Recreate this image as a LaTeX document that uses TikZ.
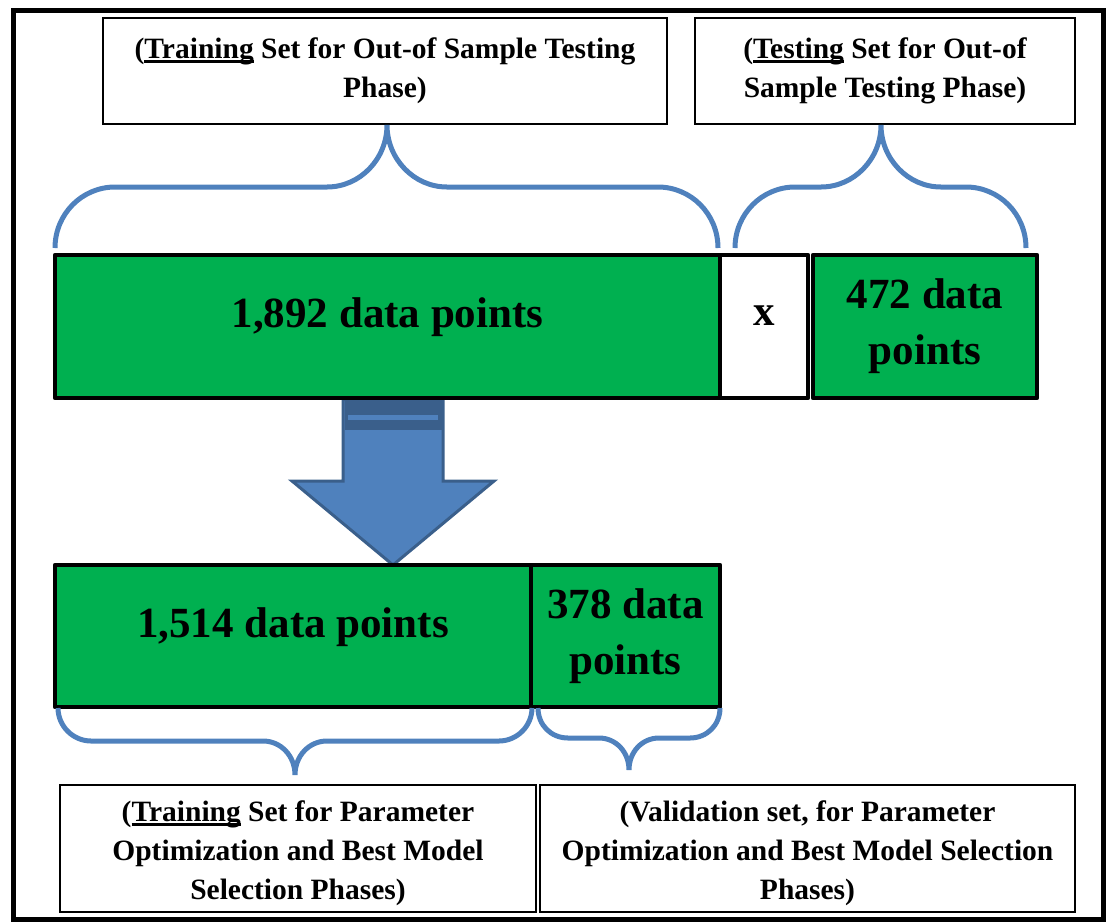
\documentclass[tikz,border=0pt]{standalone}
\usepackage{fontspec}
\setmainfont{Liberation Serif}
\definecolor{barGreen}{HTML}{00B050}
\definecolor{braceBlue}{HTML}{4F81BD}
\definecolor{arrowFill}{HTML}{4F81BD}
\definecolor{arrowEdge}{HTML}{3A5F8B}
\newcommand{\bigtxt}{\fontsize{43}{56}\selectfont\bfseries}
\newcommand{\lbltxt}{\fontsize{29.5}{39}\selectfont\bfseries}
% underline drawn as a heavier rule than \underline gives
\newcommand{\thickul}[1]{\setbox0\hbox{#1}\leavevmode\rlap{\rule[-4pt]{\wd0}{2.4pt}}\box0\relax}
\tikzset{
  bar/.style={draw=black, line width=4.5pt, line join=round, fill=barGreen,
    inner sep=0pt, align=center, font=\bigtxt},
  gapbox/.style={bar, fill=white},
  caption/.style={draw=black, line width=1.2pt, fill=white, inner sep=0pt,
    align=center, font=\lbltxt},
  bigtext/.style={inner sep=0pt, align=center, font=\bigtxt},
  captext/.style={inner sep=0pt, align=center, font=\lbltxt},
  brace/.style={draw=braceBlue, line width=5pt},
}
\begin{document}
\begin{tikzpicture}[x=1pt,y=-1pt]
\useasboundingbox (0,0) rectangle (1106,922);

% outer frame
\draw[line width=5pt] (13.5,10.5) rectangle (1103,919);

% captions above
\node[caption, minimum width=564pt, minimum height=106pt] (capTrainOut) at (385,71)
  {(\thickul{Training} Set for Out-of Sample Testing\\Phase)};
\node[caption, minimum width=380pt, minimum height=106pt] (capTestOut) at (885,71)
  {(\thickul{Testing} Set for Out-of\\Sample Testing Phase)};

% down arrow between the two rows
\filldraw[fill=arrowFill, draw=arrowEdge, line width=3pt, line join=miter]
  (343,399) -- (443,399) -- (443,481) -- (494,481) -- (393,565)
  -- (292,481) -- (343,481) -- cycle;
\fill[arrowEdge] (344.5,399) rectangle (441.5,430);
\fill[arrowFill] (348,415) rectangle (438,420);

% first row of data blocks
\node[bar, minimum width=665pt, minimum height=143pt] (all) at (387.5,326.5) {};
\node[bigtext] (allTxt) at ([yshift=9pt]all.center) {1,892 data points};
\node[gapbox, minimum width=88pt, minimum height=143pt] (gap) at (764,326.5) {};
\node[bigtext] (gapTxt) at ([yshift=11pt]gap.center) {x};
\node[bar, minimum width=224pt, minimum height=143pt] (test) at (925,326.5) {472 data\\points};

% second row of data blocks
\node[bar, minimum width=476pt, minimum height=142pt] (train) at (293,636) {};
\node[bigtext] (trainTxt) at ([yshift=9pt]train.center) {1,514 data points};
\node[bar, minimum width=189pt, minimum height=142pt] (valid) at (625.5,636) {378 data\\points};

% captions below
\node[caption, minimum width=476pt, minimum height=127pt] (capTrainPar) at (298,848.5) {};
\node[captext] (capTrainParTxt) at ([yshift=-5pt]capTrainPar.center)
  {(\thickul{Training} Set for Parameter\\Optimization and Best Model\\Selection Phases)};
\node[caption, minimum width=535pt, minimum height=127pt] (capValid) at (807.5,848.5) {};
\node[captext] (capValidTxt) at ([yshift=-5pt]capValid.center)
  {(Validation set, for Parameter\\Optimization and Best Model Selection\\Phases)};

% braces over the first row
\draw[brace] (55,248) .. controls (55,214) and (82,187) .. (115,187) -- (327,187)
  .. controls (360,187) and (387,159) .. (387,125)
  .. controls (387,159) and (414,187) .. (447,187) -- (658,187)
  .. controls (691,187) and (718,214) .. (718,248);
\draw[brace] (735,248) .. controls (735,214) and (762,187) .. (795,187) -- (821,187)
  .. controls (854,187) and (881,159) .. (881,125)
  .. controls (881,159) and (908,187) .. (941,187) -- (966,187)
  .. controls (999,187) and (1026,214) .. (1026,248);

% braces under the second row
\draw[brace] (58,708) .. controls (58,726) and (73,741) .. (91,741) -- (263,741)
  .. controls (281,741) and (295,756) .. (295,775)
  .. controls (295,756) and (309,741) .. (327,741) -- (499,741)
  .. controls (517,741) and (532,726) .. (532,708);
\draw[brace] (538,708) .. controls (538,725) and (551,738) .. (568,738) -- (599,738)
  .. controls (616,738) and (629,752) .. (629,770)
  .. controls (629,752) and (642,738) .. (659,738) -- (690,738)
  .. controls (707,738) and (720,725) .. (720,708);
\end{tikzpicture}
\end{document}
